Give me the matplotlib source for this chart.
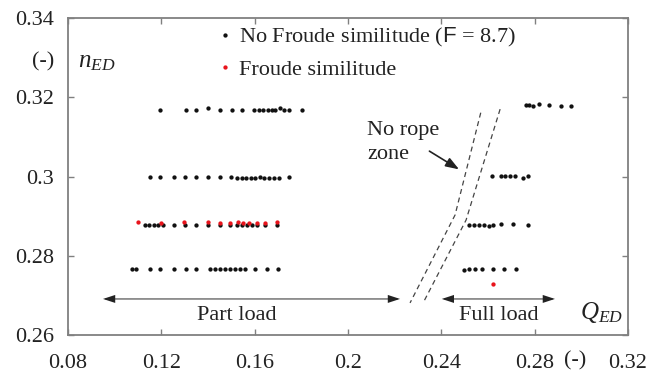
import numpy as np
import matplotlib
matplotlib.use("Agg")
import matplotlib.pyplot as plt

plt.rcParams['font.family'] = ['Liberation Serif', 'DejaVu Serif']
plt.rcParams['font.size'] = 16
plt.rcParams['mathtext.fontset'] = 'custom'
plt.rcParams['mathtext.rm'] = 'Liberation Serif'
plt.rcParams['mathtext.it'] = 'Liberation Serif:italic'
plt.rcParams['mathtext.sf'] = 'Liberation Sans'

# no Froude similitude, read row by row (left group, then right group)
q_row1 = [0.1194, 0.1306, 0.1349, 0.1400, 0.1452, 0.1503, 0.1547, 0.1597, 0.1617,
          0.1637, 0.1656, 0.1673, 0.1687, 0.1709, 0.1726, 0.1747, 0.1803,
          0.2762, 0.2776, 0.2794, 0.2819, 0.2863, 0.2912, 0.2956]
n_row1 = [0.3168, 0.3168, 0.3168, 0.3173, 0.3168, 0.3168, 0.3168, 0.3168, 0.3168,
          0.3168, 0.3168, 0.3168, 0.3168, 0.3173, 0.3168, 0.3168, 0.3168,
          0.3181, 0.3181, 0.3178, 0.3182, 0.3181, 0.3178, 0.3178]

q_row2 = [0.1151, 0.1194, 0.1254, 0.1300, 0.1349, 0.1400, 0.1452, 0.1497, 0.1526,
          0.1545, 0.1563, 0.1583, 0.1603, 0.1622, 0.1640, 0.1663, 0.1683, 0.1703, 0.1747,
          0.2619, 0.2655, 0.2673, 0.2695, 0.2716, 0.2752, 0.2773]
n_row2 = [0.2998, 0.2998, 0.2998, 0.2998, 0.2998, 0.2998, 0.2998, 0.2998, 0.2995,
          0.2995, 0.2995, 0.2995, 0.2995, 0.3000, 0.2995, 0.2995, 0.2995, 0.2995, 0.3000,
          0.3002, 0.3002, 0.3002, 0.3002, 0.3002, 0.2997, 0.3002]

q_row3 = [0.1130, 0.1149, 0.1169, 0.1187, 0.1208, 0.1254, 0.1301, 0.1349, 0.1401,
          0.1452, 0.1494, 0.1523, 0.1545, 0.1566, 0.1587, 0.1609, 0.1644, 0.1694,
          0.2520, 0.2540, 0.2560, 0.2583, 0.2604, 0.2623, 0.2657, 0.2706, 0.2770]
n_row3 = [0.2877, 0.2877, 0.2877, 0.2877, 0.2877, 0.2877, 0.2877, 0.2877, 0.2877,
          0.2877, 0.2877, 0.2877, 0.2877, 0.2877, 0.2877, 0.2877, 0.2877, 0.2877,
          0.2878, 0.2878, 0.2878, 0.2878, 0.2875, 0.2878, 0.2881, 0.2879, 0.2877]

q_row4 = [0.1073, 0.1090, 0.1151, 0.1194, 0.1254, 0.1306, 0.1349, 0.1409, 0.1430,
          0.1452, 0.1473, 0.1494, 0.1516, 0.1537, 0.1559, 0.1602, 0.1652, 0.1701,
          0.2499, 0.2520, 0.2543, 0.2573, 0.2620, 0.2670, 0.2720]
n_row4 = [0.2767, 0.2767, 0.2767, 0.2767, 0.2767, 0.2767, 0.2767, 0.2767, 0.2767,
          0.2767, 0.2767, 0.2767, 0.2767, 0.2767, 0.2767, 0.2767, 0.2767, 0.2767,
          0.2763, 0.2766, 0.2766, 0.2766, 0.2766, 0.2766, 0.2766]

# Froude similitude
q_froude = [0.1101, 0.1197, 0.1299, 0.1399, 0.1452, 0.1494, 0.1529, 0.1551, 0.1577,
            0.1609, 0.1644, 0.1694, 0.2620]
n_froude = [0.2884, 0.2883, 0.2884, 0.2884, 0.2883, 0.2883, 0.2884, 0.2883, 0.2883,
            0.2883, 0.2883, 0.2886, 0.2729]

# no rope zone boundaries
q_zone_left = [0.2569, 0.2459, 0.2266]
n_zone_left = [0.3161, 0.2903, 0.2681]
q_zone_right = [0.2652, 0.2506, 0.2322]
n_zone_right = [0.3170, 0.2890, 0.2681]

q_black = q_row1 + q_row2 + q_row3 + q_row4
n_black = n_row1 + n_row2 + n_row3 + n_row4

fig = plt.figure(figsize=(6.47, 3.79), dpi=100)
ax = fig.add_axes([0.1051, 0.1161, 0.8655, 0.8364])

ax.plot(q_black, n_black, 'o', ms=3.1, color='#111111', mew=0,
        label=r'No Froude similitude ($\mathsf{F}$ = 8.7)')
ax.plot(q_froude, n_froude, 'o', ms=3.1, color='#e8141c', mew=0,
        label='Froude similitude')

ax.plot(q_zone_left, n_zone_left, '--', color='#444444', lw=0.9, dashes=(4, 3))
ax.plot(q_zone_right, n_zone_right, '--', color='#444444', lw=0.9, dashes=(4, 3))

# load ranges: light shaft plus dark heads
shaft_kw = dict(arrowstyle='-', color='#8a8a8a', lw=1.3, shrinkA=2, shrinkB=2)
head_kw = dict(arrowstyle='<|-|>,head_length=0.55,head_width=0.18',
               color='#222222', lw=0, shrinkA=0, shrinkB=0)
for q0, q1 in [(0.0950, 0.2223), (0.2402, 0.2887)]:
    ax.annotate('', xy=(q0, 0.2691), xytext=(q1, 0.2691), arrowprops=shaft_kw)
    ax.annotate('', xy=(q0, 0.2691), xytext=(q1, 0.2691), arrowprops=head_kw)
ax.text(0.1524, 0.2650, 'Part load', ha='center', va='center', color='#222222')
ax.text(0.2647, 0.2650, 'Full load', ha='center', va='center', color='#222222')

ax.text(0.2082, 0.3086, 'No rope\nzone', ha='left', va='center', linespacing=1.35,
        color='#222222')
ax.annotate('', xy=(0.2476, 0.3018), xytext=(0.2349, 0.3064),
            arrowprops=dict(arrowstyle='-|>,head_length=0.5,head_width=0.18',
                            color='#222222', lw=1.2, shrinkA=0, shrinkB=0))

ax.text(0.2995, 0.2658, r'$Q_{ED}$', ha='left', va='center', fontsize=18, color='#222222')
ax.text(0.0843, 0.3289, r'$n_{ED}$', ha='left', va='center', fontsize=18, color='#222222')
ax.text(-0.024, 0.3289, '(-)', transform=ax.get_yaxis_transform(), ha='right',
        va='center', color='#222222')
ax.text(0.2975, -0.082, '(-)', transform=ax.get_xaxis_transform(), ha='center',
        va='center', color='#222222')

ax.set_xlim(0.08, 0.32)
ax.set_ylim(0.26, 0.34)
ax.set_xticks([0.08, 0.12, 0.16, 0.2, 0.24, 0.28, 0.32])
ax.set_xticklabels(['0.08', '0.12', '0.16', '0.2', '0.24', '0.28', '0.32'])
ax.set_yticks([0.26, 0.28, 0.3, 0.32, 0.34])
ax.set_yticklabels(['0.26', '0.28', '0.3', '0.32', '0.34'])
ax.tick_params(direction='in', length=4, width=1, color='#808080', top=True, right=True,
               labelcolor='#222222')
ax.tick_params(axis='x', pad=14)
ax.tick_params(axis='y', pad=10)
for s in ax.spines.values():
    s.set_color('#808080')
    s.set_linewidth(1.3)

leg = ax.legend(loc='upper left', bbox_to_anchor=(0.2725, 0.975), frameon=False,
                borderpad=0, borderaxespad=0, handlelength=0.4, handletextpad=0.45,
                labelspacing=0.45, markerscale=1.0, fontsize=16)
for t in leg.get_texts():
    t.set_color('#222222')

fig.savefig('out.png', dpi=100)
